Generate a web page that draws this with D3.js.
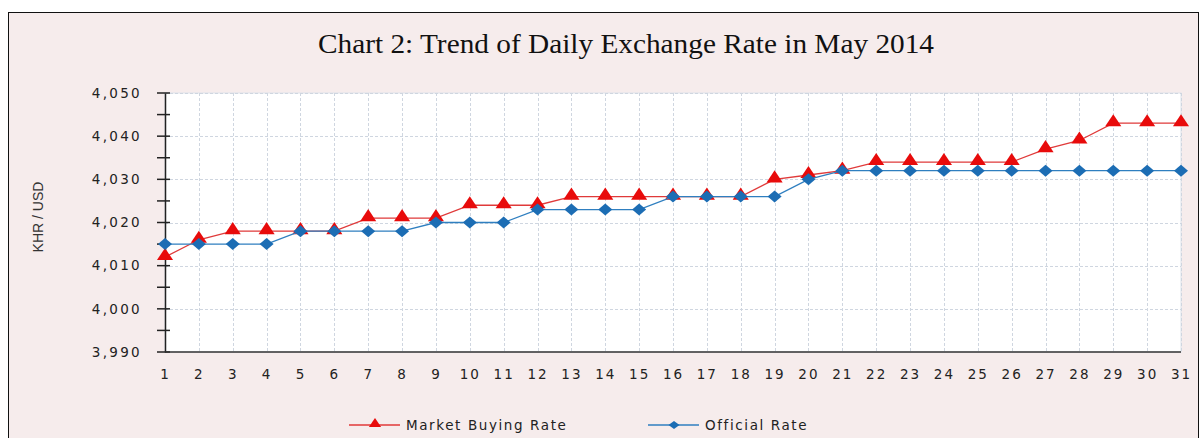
<!DOCTYPE html>
<html>
<head>
<meta charset="utf-8">
<script src="https://cdn.jsdelivr.net/npm/d3@7"></script>
<style>
  body { margin: 0; background: #ffffff; }
  svg { display: block; }
</style>
</head>
<body>
<svg id="chart" width="1202" height="438"></svg>
<script>
// chart data
var days = d3.range(1, 32);
var marketBuying = [4012, 4016, 4018, 4018, 4018, 4018, 4021, 4021, 4021, 4024,
                    4024, 4024, 4026, 4026, 4026, 4026, 4026, 4026, 4030, 4031,
                    4032, 4034, 4034, 4034, 4034, 4034, 4037, 4039, 4043, 4043, 4043];
var officialRate = [4015, 4015, 4015, 4015, 4018, 4018, 4018, 4018, 4020, 4020,
                    4020, 4023, 4023, 4023, 4023, 4026, 4026, 4026, 4026, 4030,
                    4032, 4032, 4032, 4032, 4032, 4032, 4032, 4032, 4032, 4032, 4032];
var yTicks = [3990, 4000, 4010, 4020, 4030, 4040, 4050];
var seriesNames = ["Market Buying Rate", "Official Rate"];
var titleText = "Chart 2: Trend of Daily Exchange Rate in May 2014";
var yLabel = "KHR / USD";

var svg = d3.select('#chart');
// note: "top" is window.top, so use other names
var plotL = 165, plotR = 1181, plotT = 93, plotB = 352;

// frame
svg.append('rect').attr('x', 8.5).attr('y', 12.5).attr('width', 1190).attr('height', 440)
    .attr('fill', '#f6ecec').attr('stroke', '#111').attr('stroke-width', 1);

svg.append('text').text(titleText)
    .attr('x', 626).attr('y', 53).attr('text-anchor', 'middle')
    .attr('font-family', '"Liberation Serif", "Times New Roman", serif')
    .attr('font-size', 27.5).attr('fill', '#111')
    .attr('textLength', 616).attr('lengthAdjust', 'spacingAndGlyphs');

var x = d3.scaleLinear().domain([1, 31]).range([plotL, plotR]);
var y = d3.scaleLinear().domain([3990, 4050]).range([plotB, plotT]);

// plot background
svg.append('rect').attr('x', plotL).attr('y', plotT)
    .attr('width', plotR - plotL).attr('height', plotB - plotT)
    .attr('fill', '#ffffff').attr('stroke', '#dde2ea');

// grid
var grid = svg.append('g');
grid.selectAll('line.v').data(days.slice(1)).enter().append('line')
    .attr('x1', function (d) { return Math.round(x(d)) + 0.5; })
    .attr('x2', function (d) { return Math.round(x(d)) + 0.5; })
    .attr('y1', plotT).attr('y2', plotB)
    .attr('stroke', '#cfd6e0').attr('stroke-dasharray', '3,2');
grid.selectAll('line.h').data(yTicks.slice(1)).enter().append('line')
    .attr('y1', function (d) { return Math.round(y(d)) + 0.5; })
    .attr('y2', function (d) { return Math.round(y(d)) + 0.5; })
    .attr('x1', plotL).attr('x2', plotR)
    .attr('stroke', '#cfd6e0').attr('stroke-dasharray', '3,2');

var tickFont = '"DejaVu Sans", Verdana, sans-serif';

// y axis
var yAxis = d3.axisLeft(y).tickValues(yTicks).tickSize(0).tickPadding(23)
    .tickFormat(d3.format(','));
var gy = svg.append('g').attr('transform', 'translate(' + plotL + ',0)').call(yAxis);
gy.select('.domain').attr('stroke', '#222').attr('stroke-width', 1.5);
gy.selectAll('text').attr('font-family', tickFont).attr('font-size', 13.5)
    .attr('fill', '#222').attr('letter-spacing', 2.3);
var minor = d3.range(3990, 4051, 5);
gy.selectAll('line.mt').data(minor).enter().append('line')
    .attr('x1', -8).attr('x2', 5)
    .attr('y1', function (d) { return y(d); }).attr('y2', function (d) { return y(d); })
    .attr('stroke', '#222').attr('stroke-width', 1.5);

// x axis
var xAxis = d3.axisBottom(x).tickValues(days).tickSize(0).tickPadding(17)
    .tickFormat(d3.format('d'));
var gx = svg.append('g').attr('transform', 'translate(0,' + plotB + ')').call(xAxis);
gx.select('.domain').attr('stroke', '#333').attr('stroke-width', 1.5)
    .attr('d', 'M' + plotL + ',0H' + plotR);
gx.selectAll('text').attr('font-family', tickFont).attr('font-size', 13.5)
    .attr('fill', '#222').attr('letter-spacing', 2);

svg.append('text').text(yLabel)
    .attr('transform', 'translate(43,217) rotate(-90)')
    .attr('text-anchor', 'middle')
    .attr('font-family', '"Liberation Sans Narrow", "Liberation Sans", Arial, sans-serif')
    .attr('font-size', 14).attr('fill', '#333');

var redLine = '#e03a3a', redMark = '#e80b0b';
var blueLine = '#2f7fc0', blueMark = '#1c6db4';
var triangle = d3.symbol().type(d3.symbolTriangle).size(85);
var diamond = 'M0,-6L7,0L0,6L-7,0Z';

var line = d3.line()
    .x(function (d, i) { return x(days[i]); })
    .y(function (d) { return y(d); });

// market buying rate
svg.append('path').datum(marketBuying).attr('d', line)
    .attr('fill', 'none').attr('stroke', redLine).attr('stroke-width', 1.3);
svg.selectAll('path.tri').data(marketBuying).enter().append('path')
    .attr('class', 'tri')
    .attr('d', triangle)
    .attr('transform', function (d, i) { return 'translate(' + x(days[i]) + ',' + (y(d) - 1) + ') scale(1.15,1)'; })
    .attr('fill', redMark);

// official rate
svg.append('path').datum(officialRate).attr('d', line)
    .attr('fill', 'none').attr('stroke', blueLine).attr('stroke-width', 1.3);
svg.selectAll('path.dia').data(officialRate).enter().append('path')
    .attr('class', 'dia')
    .attr('d', diamond)
    .attr('transform', function (d, i) { return 'translate(' + x(days[i]) + ',' + y(d) + ')'; })
    .attr('fill', blueMark);

// legend
var legend = [
    { name: seriesNames[0], x: 349, color: redLine, mark: redMark, shape: 'tri' },
    { name: seriesNames[1], x: 648, color: blueLine, mark: blueMark, shape: 'dia' }
];
var lg = svg.selectAll('g.leg').data(legend).enter().append('g')
    .attr('transform', function (d) { return 'translate(' + d.x + ',425)'; });
lg.append('line').attr('x1', 0).attr('x2', 51).attr('y1', 0).attr('y2', 0)
    .attr('stroke', function (d) { return d.color; }).attr('stroke-width', 1.3);
lg.append('path')
    .attr('d', function (d) { return d.shape === 'tri' ? d3.symbol().type(d3.symbolTriangle).size(45)() : 'M0,-4L5.5,0L0,4L-5.5,0Z'; })
    .attr('transform', function (d) { return d.shape === 'tri' ? 'translate(26,-1) scale(1.2,1)' : 'translate(26,0)'; })
    .attr('fill', function (d) { return d.mark; });
lg.append('text').text(function (d) { return d.name; })
    .attr('x', 57).attr('y', 5)
    .attr('font-family', tickFont).attr('font-size', 13.5)
    .attr('fill', '#222').attr('letter-spacing', 1.6);
</script>
</body>
</html>
